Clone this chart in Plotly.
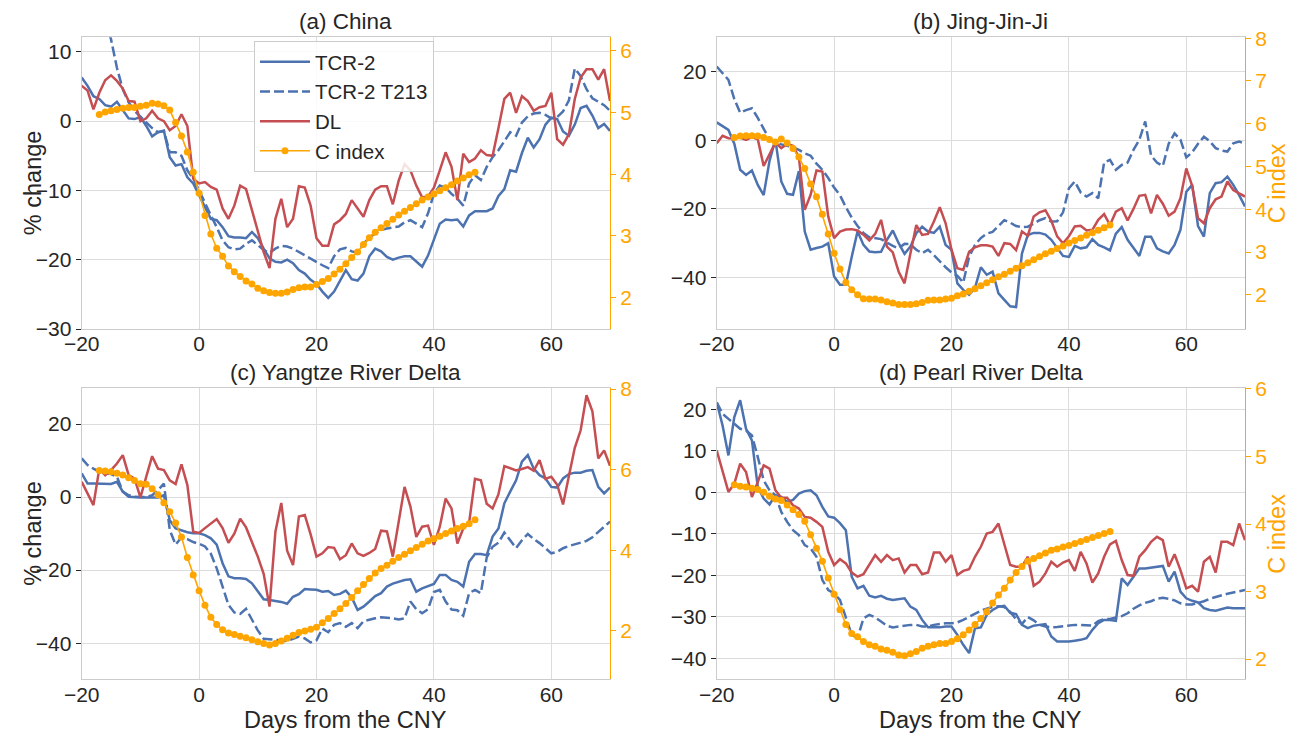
import plotly.graph_objects as go

# Days relative to the Chinese New Year
days = list(range(-20, 71))
c_days = list(range(-17, 48))
x_ticks = [-20, 0, 20, 40, 60]

# ---------------- (a) China ----------------
tcr_a = [6.3, 5.1, 3.6, 3.2, 2.3, 2.1, 2.8, 1.5, 0.4, 0.3,
         0.6, -0.7, -2.2, -1.6, -1.4, -5.2, -6.4, -6.2, -8.1, -9.0,
         -10.7, -12.4, -14.1, -14.3, -15.3, -16.6, -16.8, -16.8, -16.9, -16.0,
         -16.9, -18.4, -19.8, -20.3, -20.4, -20.0, -20.5, -21.5, -22.0, -22.9,
         -23.5, -24.6, -25.5, -24.6, -23.0, -21.5, -22.8, -23.0, -22.0, -19.5,
         -18.4, -18.8, -19.6, -20.0, -19.7, -19.5, -19.5, -20.2, -21.0, -19.4,
         -17.0, -14.8, -14.2, -14.3, -14.2, -15.2, -13.6, -13.0, -13.0, -13.0,
         -12.6, -10.8, -9.8, -7.1, -7.3, -4.6, -2.4, -3.8, -2.6, -0.5,
         0.5, 0.3, -1.5, -2.1, -0.5, 1.9, 2.2, 0.8, -1.0, -0.4,
         -1.4]
t213_a = [22.0, 20.5, 18.5, 16.5, 14.5, 11.8, 7.7, 4.6, 2.7, 1.5,
          0.6, -0.2, -1.0, -1.6, -1.4, -4.5, -4.5, -5.0, -7.1, -8.3,
          -10.0, -11.9, -13.6, -15.3, -17.2, -18.2, -18.5, -18.4, -17.7, -17.2,
          -17.9, -18.6, -19.0, -18.4, -18.0, -18.1, -18.4, -18.9, -19.3, -19.8,
          -20.3, -20.8, -21.2, -19.5, -18.5, -18.3, -18.8, -19.0, -17.7, -16.8,
          -16.2, -15.7, -15.5, -15.4, -15.2, -14.6, -14.3, -14.8, -15.3, -13.3,
          -10.5, -9.3, -9.6, -10.5, -11.2, -12.2, -9.0, -7.8, -8.5, -6.6,
          -5.2, -4.2, -2.8, -1.6, -2.1, -0.2, 0.7, 1.1, 1.2, 0.9,
          0.4, 0.6, 1.4, 3.0, 7.6, 6.5, 4.6, 3.3, 2.8, 2.3,
          1.5]
dl_a = [5.1, 4.4, 1.7, 4.1, 5.9, 6.6, 5.8, 4.7, 2.9, 2.8,
        0.0, 0.4, 1.5, 0.4, 0.0, -1.3, -0.7, 1.0, -0.7, -8.3,
        -9.0, -8.8, -9.5, -9.9, -12.6, -14.1, -12.2, -9.3, -9.8, -12.9,
        -16.2, -18.9, -21.2, -14.1, -11.2, -15.3, -14.1, -9.4, -9.6, -12.2,
        -16.9, -18.0, -18.0, -14.9, -14.3, -13.4, -11.4, -12.6, -13.8, -11.4,
        -9.9, -9.4, -9.4, -12.0, -8.6, -6.2, -7.1, -9.3, -11.0, -10.9,
        -9.6, -7.1, -4.5, -6.6, -11.4, -4.7, -5.9, -5.4, -4.2, -4.9,
        -5.0, -1.0, 3.2, 4.1, 1.2, 3.6, 2.9, 1.5, 2.0, 2.2,
        4.1, -2.6, -3.4, -1.9, 3.2, 6.3, 7.5, 7.5, 6.0, 7.5,
        2.9]
cidx_a = [4.97, 5.01, 5.03, 5.05, 5.07, 5.08, 5.08, 5.10, 5.12, 5.15,
          5.14, 5.11, 5.04, 4.84, 4.62, 4.36, 4.03, 3.69, 3.33, 3.03,
          2.80, 2.67, 2.51, 2.42, 2.34, 2.27, 2.22, 2.15, 2.11, 2.08,
          2.07, 2.07, 2.09, 2.13, 2.16, 2.17, 2.17, 2.21, 2.26, 2.31,
          2.38, 2.46, 2.55, 2.65, 2.74, 2.86, 2.97, 3.06, 3.13, 3.20,
          3.27, 3.34, 3.40, 3.46, 3.52, 3.58, 3.63, 3.68, 3.73, 3.78,
          3.83, 3.89, 3.94, 3.99, 4.03]

# ---------------- (b) Jing-Jin-Ji ----------------
tcr_b = [5.2, 4.0, 3.0, -1.0, -8.6, -10.1, -8.8, -13.0, -16.0, -6.0,
         0.2, -12.0, -15.6, -15.9, -9.0, -26.6, -31.9, -31.4, -31.0, -30.0,
         -39.7, -42.1, -42.1, -34.0, -26.5, -30.5, -32.4, -32.6, -32.5, -29.0,
         -26.3, -30.0, -33.1, -31.0, -27.1, -25.2, -26.6, -27.0, -25.2, -30.5,
         -31.9, -41.7, -43.6, -45.0, -43.0, -37.0, -39.2, -38.3, -44.6, -46.5,
         -48.4, -48.6, -33.0, -27.6, -27.0, -27.0, -27.5, -29.0, -31.5, -33.7,
         -34.0, -30.8, -31.5, -31.2, -28.8, -30.5, -31.2, -32.1, -27.2, -25.3,
         -29.0, -31.5, -33.7, -28.1, -28.1, -31.5, -32.4, -33.0, -30.5, -26.1,
         -15.0, -13.0, -25.0, -28.1, -15.4, -12.5, -12.2, -10.6, -13.0, -16.0,
         -19.3]
t213_b = [21.5, 19.5, 17.6, 12.0, 8.0, 8.8, 9.3, 6.5, 3.2, 0.2,
          -0.5, -1.2, -1.6, -2.0, -2.8, -3.8, -4.5, -6.8, -8.6, -11.0,
          -13.8, -16.0, -19.5, -22.5, -25.0, -27.0, -28.3, -28.5, -28.8, -29.8,
          -30.8, -31.5, -30.2, -30.3, -31.9, -32.9, -31.9, -33.5, -35.3, -37.0,
          -38.5, -39.5, -41.5, -34.0, -30.5, -28.5, -27.2, -26.7, -25.0, -23.3,
          -24.0, -25.0, -25.3, -25.2, -24.3, -23.3, -22.7, -23.7, -23.6, -21.0,
          -14.0, -12.0, -15.2, -16.4, -15.4, -16.9, -6.5, -5.7, -8.6, -7.2,
          -6.5, -2.8, 0.1, 5.5, -4.5, -6.5, -7.5, -1.0, 2.0, 0.2,
          -5.0, -3.5, -1.0, 1.0, -0.3, -2.3, -3.0, -3.3, -0.9, -0.4,
          -0.9]
dl_b = [-0.9, 1.3, 0.6, 0.5, 0.8, 0.1, 0.9, 0.3, -7.5, -4.0,
        -0.7, -2.3, -1.1, -1.6, -5.0, -20.3, -15.9, -8.8, -9.1, -22.2,
        -28.5, -26.6, -26.0, -25.9, -26.3, -27.5, -29.2, -27.3, -23.2, -31.0,
        -32.7, -38.3, -41.7, -33.0, -24.7, -27.6, -27.3, -23.7, -19.5, -24.2,
        -31.9, -37.3, -37.8, -32.5, -31.2, -30.6, -30.6, -31.0, -33.7, -30.0,
        -30.2, -32.0, -26.6, -27.8, -22.2, -21.0, -20.4, -23.5, -28.0, -30.0,
        -28.0, -25.1, -24.9, -26.3, -26.1, -23.2, -21.5, -24.7, -20.8, -19.8,
        -23.4, -20.0, -16.2, -15.9, -21.3, -15.9, -18.5, -22.0, -20.8, -16.9,
        -8.2, -13.3, -22.7, -24.2, -19.8, -17.2, -16.4, -12.0, -14.5, -15.5,
        -16.4]
cidx_b = [5.68, 5.71, 5.72, 5.72, 5.71, 5.68, 5.63, 5.57, 5.64, 5.55,
          5.42, 5.22, 4.95, 4.59, 4.29, 3.88, 3.42, 2.97, 2.60, 2.29,
          2.12, 2.00, 1.91, 1.90, 1.90, 1.88, 1.84, 1.81, 1.77, 1.77,
          1.77, 1.79, 1.82, 1.87, 1.88, 1.88, 1.90, 1.92, 1.98, 2.02,
          2.08, 2.14, 2.21, 2.28, 2.35, 2.42, 2.48, 2.55, 2.62, 2.68,
          2.75, 2.82, 2.89, 2.96, 3.02, 3.08, 3.14, 3.21, 3.27, 3.33,
          3.39, 3.45, 3.51, 3.57, 3.63]

# ---------------- (c) Yangtze River Delta ----------------
tcr_c = [6.5, 3.7, 3.7, 3.7, 3.5, 3.6, 4.2, 1.5, 0.1, -0.1,
         -0.1, -0.1, -0.1, -0.1, 0.5, -6.3, -8.6, -9.2, -9.6, -9.9,
         -9.9, -10.4, -11.3, -13.0, -18.1, -21.7, -22.2, -22.2, -22.4, -23.6,
         -25.9, -28.0, -28.2, -28.4, -28.7, -29.2, -27.3, -26.6, -25.2, -25.3,
         -25.4, -25.9, -25.7, -26.8, -26.5, -25.6, -27.5, -30.9, -30.0, -28.6,
         -27.1, -26.3, -24.5, -23.7, -23.1, -22.7, -22.5, -25.9, -25.0, -24.5,
         -23.8, -21.3, -21.3, -22.7, -23.2, -24.5, -17.7, -15.6, -15.6, -15.9,
         -10.8, -8.6, -1.7, 1.5, 4.6, 9.7, 11.5, 7.8, 6.0, 5.1,
         2.8, 2.6, 5.1, 6.3, 6.7, 6.7, 7.2, 7.4, 2.8, 1.0,
         2.6]
t213_c = [10.6, 8.8, 7.8, 6.9, 6.5, 6.3, 5.6, 1.5, 0.5, 0.1,
          0.0, 0.0, 0.5, 1.9, 3.7, -9.0, -13.0, -11.0, -11.5, -12.3,
          -12.8, -13.5, -15.5, -19.5, -24.5, -29.5, -31.6, -32.0, -30.6, -33.6,
          -36.5, -38.8, -38.9, -39.1, -39.3, -39.4, -38.8, -38.2, -38.7, -39.8,
          -39.2, -36.0, -37.0, -35.0, -34.5, -35.5, -34.5, -35.9, -34.0, -33.5,
          -33.2, -32.9, -33.0, -33.2, -33.5, -33.2, -28.6, -30.7, -31.8, -30.7,
          -26.0, -25.4, -28.6, -30.8, -31.0, -32.5, -26.3, -25.4, -26.3, -16.5,
          -13.6, -12.5, -9.7, -11.8, -14.0, -11.8, -10.1, -11.5, -12.6, -14.0,
          -15.4, -15.0, -14.0, -13.4, -12.9, -12.5, -12.0, -11.0, -9.5, -8.0,
          -6.7]
dl_c = [4.2, 1.0, -2.2, 7.8, 6.0, 7.4, 9.2, 11.5, 6.0, 5.1,
        -0.1, 5.6, 11.2, 7.8, 7.4, 4.6, 3.6, 9.0, 3.3, -9.5,
        -9.8, -8.5, -7.2, -6.0, -8.5, -12.5, -10.0, -5.9, -8.3, -12.3,
        -16.3, -21.0, -30.0, -9.5, -1.6, -14.7, -18.6, -5.3, -4.9, -10.2,
        -16.3, -15.4, -13.7, -13.9, -17.0, -15.9, -12.7, -15.4, -16.1, -15.3,
        -14.2, -9.2, -9.4, -16.3, -6.3, 2.8, -2.6, -10.9, -8.1, -7.8,
        -13.1, -8.1, -0.4, -3.1, -12.7, -8.6, -7.0, 5.0, 4.6, -1.8,
        -3.1, 0.8, 8.5, 7.8, 7.3, 7.7, 8.2, 7.2, 10.1, 5.0,
        5.6, 3.4, -2.0, 5.8, 13.5, 18.3, 27.9, 23.5, 10.6, 12.8,
        8.6]
cidx_c = [5.98, 5.97, 5.95, 5.91, 5.87, 5.80, 5.73, 5.65, 5.64, 5.53,
          5.38, 5.18, 4.96, 4.68, 4.33, 3.82, 3.39, 3.00, 2.64, 2.34,
          2.16, 2.03, 1.95, 1.91, 1.87, 1.83, 1.78, 1.73, 1.69, 1.65,
          1.69, 1.75, 1.82, 1.89, 1.96, 2.00, 2.04, 2.09, 2.20, 2.31,
          2.43, 2.55, 2.68, 2.83, 3.00, 3.15, 3.30, 3.44, 3.55, 3.63,
          3.73, 3.82, 3.90, 3.99, 4.07, 4.15, 4.23, 4.29, 4.35, 4.42,
          4.48, 4.54, 4.60, 4.66, 4.76]

# ---------------- (d) Pearl River Delta ----------------
tcr_d = [21.7, 16.1, 8.9, 18.1, 22.2, 15.3, 12.5, 1.3, -1.5, -2.9,
         -0.7, -1.1, -2.3, -1.8, -0.3, 0.3, 0.5, -0.7, -3.5, -5.8,
         -6.1, -7.4, -9.1, -20.3, -23.1, -22.5, -24.9, -25.3, -24.9, -25.6,
         -25.9, -25.7, -25.5, -27.5, -28.3, -30.7, -32.5, -32.5, -32.5, -32.3,
         -32.3, -34.3, -36.7, -38.7, -32.7, -32.5, -29.5, -28.3, -27.5, -27.3,
         -29.0, -29.3, -31.9, -32.7, -32.1, -31.9, -31.7, -34.7, -35.9, -35.9,
         -35.9, -35.7, -35.5, -35.1, -33.1, -31.5, -30.7, -30.7, -30.9, -20.7,
         -22.3, -20.3, -18.3, -18.3, -18.1, -17.9, -17.7, -21.5, -19.1, -23.9,
         -25.5, -26.1, -26.5, -27.9, -28.3, -28.5, -28.1, -27.7, -27.9, -27.9,
         -27.9]
t213_d = [21.7, 18.9, 17.7, 16.5, 15.3, 14.9, 13.7, 8.5, 2.9, 0.5,
          -0.7, -4.7, -7.1, -9.1, -10.3, -12.7, -13.5, -15.5, -21.1, -23.5,
          -24.3, -25.9, -29.9, -34.3, -35.1, -30.3, -29.5, -30.1, -31.1, -32.1,
          -32.5, -32.3, -32.1, -31.9, -31.9, -32.3, -32.3, -31.9, -31.7, -31.5,
          -31.5, -31.3, -30.7, -30.0, -29.2, -28.5, -28.0, -27.6, -27.4, -27.6,
          -28.8, -30.5, -31.7, -30.0, -30.8, -31.9, -32.3, -32.5, -32.4, -32.2,
          -32.0, -31.9, -31.9, -32.0, -32.1, -31.0, -30.5, -30.5, -30.2, -29.8,
          -29.1, -28.0, -27.2, -26.6, -26.2, -25.6, -25.4, -25.6, -26.0, -26.7,
          -27.0, -27.0, -26.6, -26.2, -25.6, -25.2, -24.7, -24.4, -24.1, -23.8,
          -23.5]
dl_d = [10.1, 5.3, 0.1, 2.1, 6.9, 4.9, -1.1, 2.5, 6.5, 5.7,
        0.5, -1.3, -1.3, -3.1, -3.9, -5.9, -6.1, -7.1, -8.3, -14.3,
        -17.5, -16.1, -17.1, -19.3, -20.3, -19.7, -17.5, -15.1, -16.7, -15.1,
        -16.3, -15.9, -19.3, -17.5, -17.5, -19.7, -19.3, -14.5, -14.5, -16.7,
        -15.1, -19.9, -18.9, -18.5, -15.5, -13.1, -9.9, -9.5, -7.5, -12.5,
        -17.5, -17.9, -17.9, -15.5, -22.5, -21.5, -19.5, -16.7, -17.9, -16.9,
        -16.3, -18.9, -14.3, -17.1, -21.7, -19.5, -15.5, -12.5, -11.7, -16.3,
        -19.9, -20.1, -15.5, -13.9, -11.9, -10.7, -11.5, -17.9, -14.9, -18.7,
        -23.1, -22.5, -23.9, -16.7, -15.5, -19.3, -11.9, -11.9, -12.7, -7.5,
        -11.5]
cidx_d = [4.58, 4.56, 4.55, 4.53, 4.51, 4.47, 4.41, 4.37, 4.35, 4.28,
          4.21, 4.14, 4.04, 3.84, 3.64, 3.45, 3.20, 2.96, 2.73, 2.51,
          2.38, 2.33, 2.26, 2.21, 2.19, 2.15, 2.13, 2.10, 2.06, 2.05,
          2.08, 2.11, 2.16, 2.19, 2.21, 2.23, 2.23, 2.26, 2.30, 2.36,
          2.43, 2.51, 2.60, 2.70, 2.83, 2.95, 3.05, 3.17, 3.28, 3.37,
          3.45, 3.49, 3.53, 3.57, 3.61, 3.63, 3.66, 3.68, 3.71, 3.74,
          3.77, 3.80, 3.83, 3.86, 3.89]

titles = ["(a) China", "(b) Jing-Jin-Ji", "(c) Yangtze River Delta", "(d) Pearl River Delta"]
series_names = ["TCR-2", "TCR-2 T213", "DL", "C index"]

BLUE = "#4c72b0"
RED = "#c44e52"
ORANGE = "#ffa500"
INK = "#262626"
FRAME = "#cccccc"
GRID = "#dcdcdc"
FONT = "Liberation Sans, Arial, sans-serif"
TICK_SIZE = 21
TITLE_SIZE = 22.5
LABEL_SIZE = 23.5

W, H = 1290, 733
COL_X = [(81.7 / W, 610 / W), (716.7 / W, 1245 / W)]
ROW_Y = [(1 - 329 / H, 1 - 37.3 / H), (1 - 679.3 / H, 1 - 388.3 / H)]

panels = [
    dict(tcr=tcr_a, t213=t213_a, dl=dl_a, cidx=cidx_a, col=0, row=0,
         yrange=[-30, 12.1], yticks=[-30, -20, -10, 0, 10],
         crange=[1.49, 6.22], cticks=[2, 3, 4, 5, 6]),
    dict(tcr=tcr_b, t213=t213_b, dl=dl_b, cidx=cidx_b, col=1, row=0,
         yrange=[-55, 30], yticks=[-40, -20, 0, 20],
         crange=[1.2, 8.02], cticks=[2, 3, 4, 5, 6, 7, 8]),
    dict(tcr=tcr_c, t213=t213_c, dl=dl_c, cidx=cidx_c, col=0, row=1,
         yrange=[-49.9, 29.8], yticks=[-40, -20, 0, 20],
         crange=[0.8, 8.02], cticks=[2, 4, 6, 8]),
    dict(tcr=tcr_d, t213=t213_d, dl=dl_d, cidx=cidx_d, col=1, row=1,
         yrange=[-45, 25.05], yticks=[-40, -30, -20, -10, 0, 10, 20],
         crange=[1.70, 6.01], cticks=[2, 3, 4, 5, 6]),
]

fig = go.Figure()
layout = {}
annotations = []

for i, p in enumerate(panels):
    n = i + 1
    sfx = "" if n == 1 else str(n)
    xa, ya, yc = "x" + sfx, "y" + sfx, "y" + str(n + 4)
    show = n == 1

    fig.add_trace(go.Scatter(x=days, y=p["tcr"], mode="lines", name=series_names[0],
                             line=dict(color=BLUE, width=2.5), xaxis=xa, yaxis=ya,
                             showlegend=show))
    fig.add_trace(go.Scatter(x=days, y=p["t213"], mode="lines", name=series_names[1],
                             line=dict(color=BLUE, width=2.5, dash="10px,4px"), xaxis=xa, yaxis=ya,
                             showlegend=show))
    fig.add_trace(go.Scatter(x=days, y=p["dl"], mode="lines", name=series_names[2],
                             line=dict(color=RED, width=2.5), xaxis=xa, yaxis=ya,
                             showlegend=show))
    fig.add_trace(go.Scatter(x=c_days, y=p["cidx"], mode="lines+markers", name=series_names[3],
                             line=dict(color=ORANGE, width=1.6), marker=dict(color=ORANGE, size=7),
                             xaxis=xa, yaxis=yc, showlegend=show))

    xd = COL_X[p["col"]]
    yd = ROW_Y[p["row"]]
    layout["xaxis" + sfx] = dict(
        domain=list(xd), anchor=ya, range=[-20, 70], tickvals=x_ticks, automargin=False,
        showgrid=True, gridcolor=GRID, gridwidth=1, zeroline=False,
        showline=True, linecolor=FRAME, linewidth=1.3, mirror=True,
        ticks="", ticklabelstandoff=-4,
        tickfont=dict(size=TICK_SIZE, color=INK, family=FONT),
    )
    layout["yaxis" + sfx] = dict(
        domain=list(yd), anchor=xa, range=p["yrange"], tickvals=p["yticks"], automargin=False,
        showgrid=True, gridcolor=GRID, gridwidth=1, zeroline=False,
        showline=True, linecolor=FRAME, linewidth=1.3,
        ticks="outside", ticklen=5, tickwidth=1.2, tickcolor=INK,
        tickfont=dict(size=TICK_SIZE, color=INK, family=FONT),
    )
    layout["yaxis" + str(n + 4)] = dict(
        overlaying=ya, side="right", anchor=xa, range=p["crange"], tickvals=p["cticks"],
        automargin=False, showgrid=False, zeroline=False,
        showline=True, linecolor=ORANGE, linewidth=1.3,
        ticks="outside", ticklen=5, tickwidth=1.2, tickcolor=ORANGE,
        tickfont=dict(size=TICK_SIZE, color=ORANGE, family=FONT),
    )

    # panel title
    annotations.append(dict(text=titles[i], xref="paper", yref="paper",
                            x=(xd[0] + xd[1]) / 2, y=yd[1], xanchor="center", yanchor="bottom",
                            yshift=1, showarrow=False,
                            font=dict(size=TITLE_SIZE, color=INK, family=FONT)))
    ymid = (yd[0] + yd[1]) / 2
    if p["col"] == 0:
        annotations.append(dict(text="% change", xref="paper", yref="paper",
                                x=33 / W, y=ymid, xanchor="center", yanchor="middle",
                                textangle=-90, showarrow=False,
                                font=dict(size=LABEL_SIZE, color=INK, family=FONT)))
    else:
        annotations.append(dict(text="C index", xref="paper", yref="paper",
                                x=1277 / W, y=ymid, xanchor="center", yanchor="middle",
                                textangle=-90, showarrow=False,
                                font=dict(size=LABEL_SIZE, color=ORANGE, family=FONT)))
    if p["row"] == 1:
        annotations.append(dict(text="Days from the CNY", xref="paper", yref="paper",
                                x=(xd[0] + xd[1]) / 2, y=1 - 720 / H, xanchor="center",
                                yanchor="middle", showarrow=False,
                                font=dict(size=LABEL_SIZE, color=INK, family=FONT)))

fig.update_layout(
    width=W, height=H, autosize=False,
    margin=dict(l=0, r=0, t=0, b=0),
    paper_bgcolor="white", plot_bgcolor="white",
    font=dict(family=FONT, color=INK),
    annotations=annotations,
    legend=dict(x=254 / W, y=1 - 41 / H, xanchor="left", yanchor="top",
                bgcolor="rgba(255,255,255,0.85)", bordercolor=FRAME, borderwidth=1,
                font=dict(size=20.5, color=INK, family=FONT), itemwidth=50),
    **layout,
)

fig.write_html("out.html")
